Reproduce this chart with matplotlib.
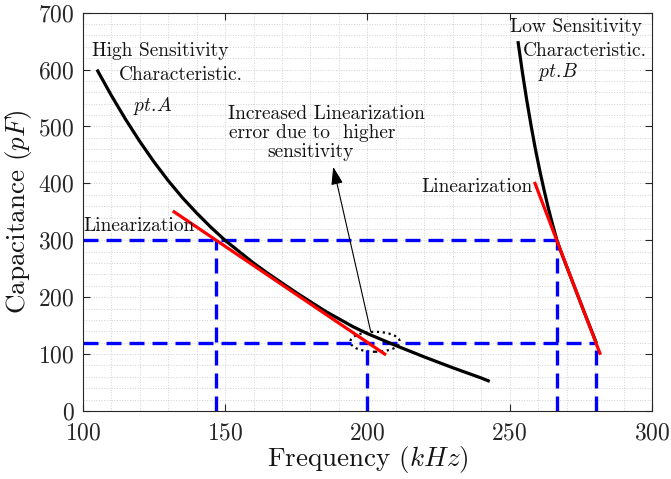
import matplotlib
matplotlib.use('Agg')
import matplotlib.pyplot as plt
from matplotlib.patches import Ellipse
from matplotlib.ticker import MultipleLocator

plt.rcParams['font.family'] = 'serif'
plt.rcParams['font.serif'] = ['cmr10']
plt.rcParams['mathtext.fontset'] = 'cm'
plt.rcParams['axes.formatter.use_mathtext'] = True

# ---- data ----
# High-sensitivity characteristic (pt.A)
freq_a = [105, 110, 115, 120, 125, 130, 135, 140, 145, 150, 155, 160, 165, 170,
          175, 180, 185, 190, 195, 200, 205, 210, 215, 220, 225, 230, 235, 240, 243]
cap_a = [600, 555, 513, 474, 438, 405, 375, 348, 323, 300, 280, 260, 242, 225,
         208, 192, 176, 162, 148, 136, 125.5, 115, 105, 95, 85.5, 76, 67, 58, 52]
# Low-sensitivity characteristic (pt.B)
freq_b = [252.9, 254.5, 256, 257.5, 259, 260.5, 262, 263.5, 265, 266.6, 268, 270,
          273, 276, 280.5]
cap_b = [650, 594, 546, 502, 461, 424, 390, 358, 329, 300, 280, 254, 215, 176, 119]
# Linearizations
lin_a_freq = [132.1, 206.1]
lin_a_cap = [350, 100]
lin_b_freq = [258.9, 281.7]
lin_b_cap = [400, 101.4]
# Reference levels and their frequencies on the linearizations
ref_cap = [300, 120]
ref_freq_a = [146.9, 200.0]
ref_freq_b = [266.6, 280.3]
# Highlighted region
ellipse_center = (202.7, 121.6)
ellipse_size = (17.4, 35)
arrow_tail = (201.2, 139)
arrow_tip = (188, 429)

fig = plt.figure(figsize=(6.71, 4.79), dpi=100)
ax = fig.add_axes([0.1233, 0.142, 0.8484, 0.8315])

ax.set_xlim(100, 300)
ax.set_ylim(0, 700)
ax.xaxis.set_major_locator(MultipleLocator(50))
ax.yaxis.set_major_locator(MultipleLocator(100))
ax.xaxis.set_minor_locator(MultipleLocator(10))
ax.yaxis.set_minor_locator(MultipleLocator(20))
ax.grid(which='both', linestyle=':', color=(0.82, 0.82, 0.82), linewidth=0.7)
ax.set_axisbelow(True)
ax.tick_params(which='major', direction='in', length=5, width=0.8,
               top=True, right=True, labelsize=17, colors=(0.15, 0.15, 0.15))
ax.tick_params(axis='x', which='major', pad=8)
ax.tick_params(axis='y', which='major', pad=6)
ax.tick_params(which='minor', length=0, top=True, right=True)
for s in ax.spines.values():
    s.set_color((0.15, 0.15, 0.15))
    s.set_linewidth(0.8)

dash = (0, (4.5, 2.4))
blue = (0, 0, 1)
lwd = 2.4
# horizontal reference lines
ax.plot([100, ref_freq_b[0]], [ref_cap[0], ref_cap[0]], color=blue, lw=lwd, linestyle=dash)
ax.plot([100, ref_freq_b[1]], [ref_cap[1], ref_cap[1]], color=blue, lw=lwd, linestyle=dash)
# vertical reference lines
for fa, c in zip(ref_freq_a, ref_cap):
    ax.plot([fa, fa], [0, c], color=blue, lw=lwd, linestyle=dash)
for fb, c in zip(ref_freq_b, ref_cap):
    ax.plot([fb, fb], [0, c], color=blue, lw=lwd, linestyle=dash)

ax.plot(freq_a, cap_a, color='k', lw=2.3, solid_capstyle='butt')
ax.plot(freq_b, cap_b, color='k', lw=2.3, solid_capstyle='butt')
ax.plot(lin_a_freq, lin_a_cap, color=(1, 0, 0), lw=2.3)
ax.plot(lin_b_freq, lin_b_cap, color=(1, 0, 0), lw=2.3)

ax.add_patch(Ellipse(ellipse_center, ellipse_size[0], ellipse_size[1], fill=False,
                     edgecolor='k', linestyle=':', lw=1.6))
ax.annotate('', xy=arrow_tip, xytext=arrow_tail,
            arrowprops=dict(arrowstyle='-|>,head_length=0.6,head_width=0.2',
                            color='k', lw=0.8, mutation_scale=18,
                            shrinkA=0, shrinkB=0))

fs = 14
tc = (0.08, 0.08, 0.08)
ax.text(103.4, 624, 'High Sensitivity', fontsize=fs, color=tc, va='baseline')
ax.text(112.75, 581.7, 'Characteristic.', fontsize=fs, color=tc, va='baseline')
ax.text(117.6, 527, r'$pt.\!A$', fontsize=fs, color=tc, va='baseline')
ax.text(250.1, 666, 'Low Sensitivity', fontsize=fs, color=tc, va='baseline')
ax.text(254.8, 624, 'Characteristic.', fontsize=fs, color=tc, va='baseline')
ax.text(260.0, 587.5, r'$pt.\!B$', fontsize=fs, color=tc, va='baseline')
ax.text(151.1, 513, 'Increased Linearization', fontsize=fs, color=tc, va='baseline')
ax.text(151.4, 480, 'error due to  higher', fontsize=fs, color=tc, va='baseline')
ax.text(164.8, 446.5, 'sensitivity', fontsize=fs, color=tc, va='baseline')
ax.text(100.3, 316, 'Linearization', fontsize=fs, color=tc, va='baseline')
ax.text(219.1, 385, 'Linearization', fontsize=fs, color=tc, va='baseline')

ax.set_xlabel('Frequency $(kHz)$', fontsize=19.5, color=tc, labelpad=0)
ax.set_ylabel('Capacitance $(pF)$', fontsize=19.5, color=tc, labelpad=3)

fig.savefig('out.png', dpi=100)
